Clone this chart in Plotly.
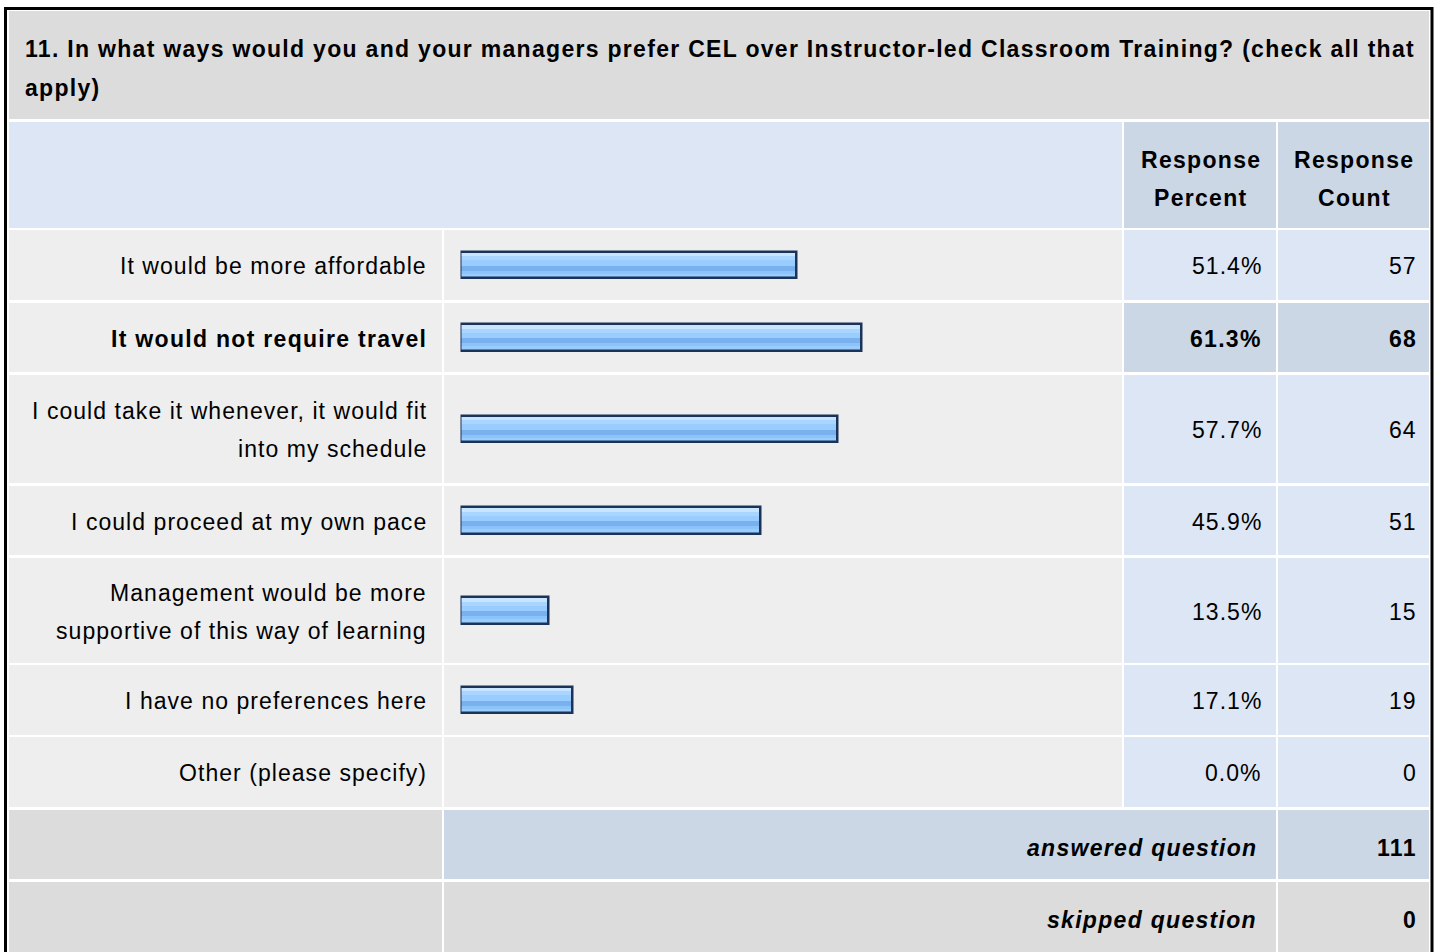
import plotly.graph_objects as go

# ---------------- data ----------------
title_lines = [
    "11. In what ways would you and your managers prefer CEL over Instructor-led Classroom Training? (check all that",
    "apply)",
]
answer_lines = [
    ["It would be more affordable"],
    ["It would not require travel"],
    ["I could take it whenever, it would fit", "into my schedule"],
    ["I could proceed at my own pace"],
    ["Management would be more", "supportive of this way of learning"],
    ["I have no preferences here"],
    ["Other (please specify)"],
]
response_percent = [51.4, 61.3, 57.7, 45.9, 13.5, 17.1, 0.0]
response_count = [57, 68, 64, 51, 15, 19, 0]
header_percent = ["Response", "Percent"]
header_count = ["Response", "Count"]
answered_label = "answered question"
answered_count = 111
skipped_label = "skipped question"
skipped_count = 0

# ---------------- layout constants ----------------
W, H = 1440, 952
COL_LABEL = (9, 442)
COL_BAR = (444, 1122)
COL_PCT = (1124, 1276)
COL_CNT = (1278, 1429)
TITLE_Y = (11, 119)
HEADER_Y = (122, 228)
ROW_Y = [(230, 300), (303, 372), (375, 483), (486, 555), (558, 663), (665, 735), (737, 807)]
ANS_Y = (810, 879)
SKIP_Y = (882, 970)
LINE_GAP = 38
BAR_X0, BAR_X100 = 460.5, 1114.5

GRAY = "#DCDCDC"
LIGHT = "#EEEEEE"
BLUE = "#DCE6F4"
BLUE_DARK = "#CBD7E5"
FONT = "Liberation Sans, Arial, Helvetica, sans-serif"
FS = 23
LS_REG = 1.05
LS_BOLD = 1.3
PAD = 3

max_idx = response_percent.index(max(response_percent))

shapes = []


def cell(x0, x1, y0, y1, color):
    shapes.append(dict(type="rect", xref="paper", yref="y", x0=x0 / W, x1=x1 / W,
                       y0=y0, y1=y1, fillcolor=color, line=dict(width=0), layer="below"))


annotations = []


def text(s, x, y, anchor="right", bold=False, italic=False):
    ls = LS_BOLD if bold else LS_REG
    t = f'<span style="letter-spacing:{ls}px">{s}</span>'
    if italic:
        t = f"<i>{t}</i>"
    if bold:
        t = f"<b>{t}</b>"
    if anchor == "right":
        x = x + PAD + ls
    elif anchor == "left":
        x = x - PAD
    else:
        x = x + ls / 2
    annotations.append(dict(text=t, xref="paper", yref="y", x=x / W, y=y, xanchor=anchor,
                            yanchor="middle", showarrow=False,
                            font=dict(family=FONT, size=FS, color="#000000")))


def multiline(lines, x, yc, anchor="right", bold=False, italic=False):
    n = len(lines)
    for i, ln in enumerate(lines):
        text(ln, x, yc + (i - (n - 1) / 2) * LINE_GAP, anchor, bold, italic)


# title
cell(COL_LABEL[0], COL_CNT[1], TITLE_Y[0], TITLE_Y[1], GRAY)
text(title_lines[0], 26, 49, "left", bold=True)
text(title_lines[1], 26, 87.5, "left", bold=True)

# header
cell(COL_LABEL[0], COL_BAR[1], HEADER_Y[0], HEADER_Y[1], BLUE)
cell(COL_PCT[0], COL_PCT[1], HEADER_Y[0], HEADER_Y[1], BLUE_DARK)
cell(COL_CNT[0], COL_CNT[1], HEADER_Y[0], HEADER_Y[1], BLUE_DARK)
hc = (HEADER_Y[0] + HEADER_Y[1]) / 2 + 4
multiline(header_percent, (COL_PCT[0] + COL_PCT[1]) / 2, hc, "center", bold=True)
multiline(header_count, (COL_CNT[0] + COL_CNT[1]) / 2, hc, "center", bold=True)

# answer rows
centers = []
for i, (y0, y1) in enumerate(ROW_Y):
    yc = (y0 + y1) / 2
    centers.append(yc)
    hl = i == max_idx
    cell(COL_LABEL[0], COL_LABEL[1], y0, y1, LIGHT)
    cell(COL_BAR[0], COL_BAR[1], y0, y1, LIGHT)
    cell(COL_PCT[0], COL_PCT[1], y0, y1, BLUE_DARK if hl else BLUE)
    cell(COL_CNT[0], COL_CNT[1], y0, y1, BLUE_DARK if hl else BLUE)
    multiline(answer_lines[i], 425, yc + 1, "right", bold=hl)
    text(f"{response_percent[i]:.1f}%", 1260, yc + 1, "right", bold=hl)
    text(f"{response_count[i]}", 1415, yc + 1, "right", bold=hl)

# answered / skipped
cell(COL_LABEL[0], COL_LABEL[1], ANS_Y[0], ANS_Y[1], GRAY)
cell(COL_BAR[0], COL_PCT[1], ANS_Y[0], ANS_Y[1], BLUE_DARK)
cell(COL_CNT[0], COL_CNT[1], ANS_Y[0], ANS_Y[1], BLUE_DARK)
ac = (ANS_Y[0] + ANS_Y[1]) / 2 + 3
text(answered_label, 1255, ac, "right", bold=True, italic=True)
text(str(answered_count), 1415, ac, "right", bold=True)

cell(COL_LABEL[0], COL_LABEL[1], SKIP_Y[0], SKIP_Y[1], GRAY)
cell(COL_BAR[0], COL_PCT[1], SKIP_Y[0], SKIP_Y[1], GRAY)
cell(COL_CNT[0], COL_CNT[1], SKIP_Y[0], SKIP_Y[1], GRAY)
sc = 920
text(skipped_label, 1255, sc, "right", bold=True, italic=True)
text(str(skipped_count), 1415, sc, "right", bold=True)

# outer frame
shapes.append(dict(type="rect", xref="paper", yref="y", x0=5.5 / W, x1=1432 / W, y0=8.5, y1=1000,
                   fillcolor="rgba(0,0,0,0)", line=dict(color="#000000", width=3), layer="above"))

# ---------------- bars ----------------
fig = go.Figure()
BAR_H = 29
bands = [
    (2.0, 5.5, "#C8E4FF"),
    (5.5, 9.5, "#AAD5FF"),
    (9.5, 15.0, "#99CCFF"),
    (15.0, 20.0, "#78B1EE"),
    (20.0, 23.0, "#8CC4FA"),
    (23.0, 27.0, "#99CCFF"),
]
for b0, b1, col in bands:
    fig.add_trace(go.Bar(
        orientation="h", x=response_percent, y=centers, base=0,
        width=b1 - b0, offset=-BAR_H / 2 + b0,
        marker=dict(color=col, line=dict(width=0)),
        hoverinfo="skip", showlegend=False,
    ))
fig.add_trace(go.Bar(
    orientation="h", x=response_percent, y=centers, base=0,
    width=BAR_H - 2.5, offset=-BAR_H / 2 + 1.25,
    marker=dict(color="rgba(0,0,0,0)",
                line=dict(color="#1B3358", width=[2.5 if v > 0 else 0 for v in response_percent])),
    hoverinfo="skip", showlegend=False,
))

fig.update_layout(
    width=W, height=H, margin=dict(l=0, r=0, t=0, b=0),
    paper_bgcolor="#FFFFFF", plot_bgcolor="rgba(0,0,0,0)",
    barmode="overlay", bargap=0,
    xaxis=dict(domain=[BAR_X0 / W, BAR_X100 / W], range=[0, 100], visible=False, fixedrange=True),
    yaxis=dict(domain=[0, 1], range=[H, 0], visible=False, fixedrange=True),
    shapes=shapes, annotations=annotations,
    showlegend=False,
)

fig.write_html("out.html", config=dict(displayModeBar=False),
               post_script="document.body.style.margin='0';document.body.style.overflow='hidden';")
